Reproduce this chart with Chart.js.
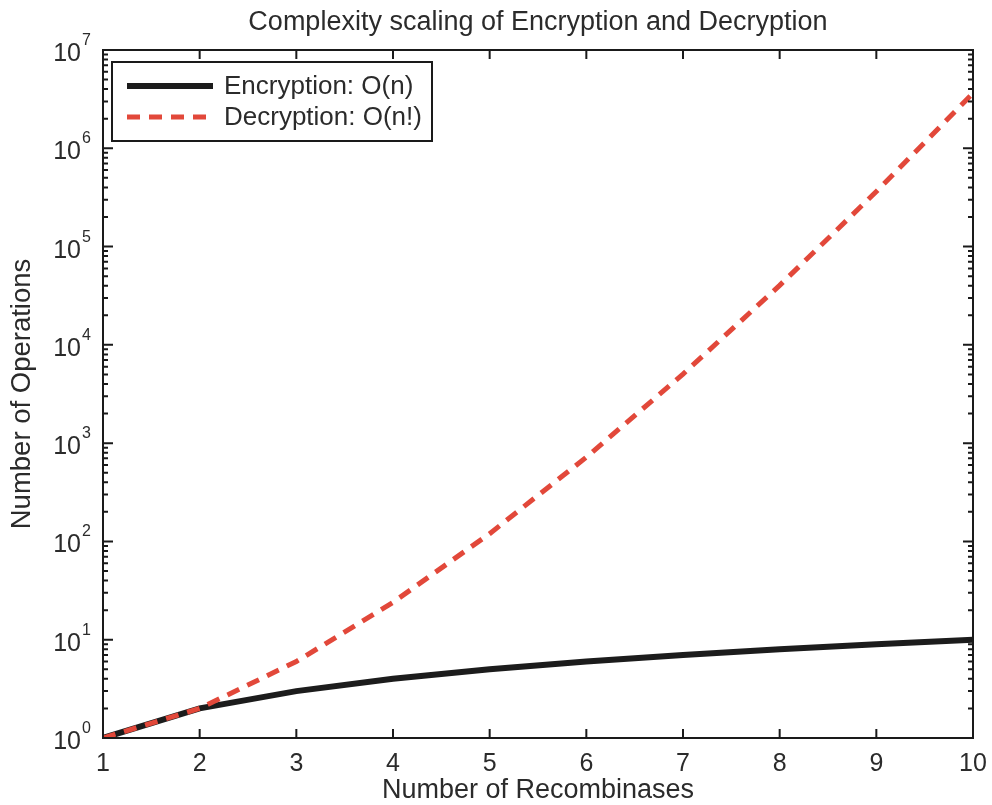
<!DOCTYPE html>
<html>
<head>
<meta charset="utf-8">
<script src="https://cdn.jsdelivr.net/npm/chart.js@4.4.0/dist/chart.umd.min.js"></script>
<style>
  body { margin: 0; background: #fff; }
  #wrap { width: 992px; height: 805px; }
</style>
</head>
<body>
<div id="wrap"><canvas id="myChart"></canvas></div>
<script>
// Data
var recombinases = [1, 2, 3, 4, 5, 6, 7, 8, 9, 10];
var encryptionOps = [1, 2, 3, 4, 5, 6, 7, 8, 9, 10];
var decryptionOps = [1, 2, 6, 24, 120, 720, 5040, 40320, 362880, 3628800];
var xTicks = [1, 2, 3, 4, 5, 6, 7, 8, 9, 10];
var yExponents = [0, 1, 2, 3, 4, 5, 6, 7];
var chartTitle = 'Complexity scaling of Encryption and Decryption';

var textColor = '#2b2b2b';
var blackLine = '#1c1c1c';
var redLine = '#e2483a';
var fontFamily = '"Liberation Sans", Arial, sans-serif';

// MATLAB-style frame, inward ticks, 10^k labels, title over the axes and boxed legend
var matlabFrame = {
    id: 'matlabFrame',
    afterDraw: function (chart) {
        var ctx = chart.ctx;
        var a = chart.chartArea;
        var xs = chart.scales.x, ys = chart.scales.y;
        ctx.save();

        // title centred over the plot box
        ctx.fillStyle = textColor;
        ctx.font = '27px ' + fontFamily;
        ctx.textAlign = 'center';
        ctx.textBaseline = 'middle';
        ctx.fillText(chartTitle, (a.left + a.right) / 2, 23);

        ctx.strokeStyle = '#1a1a1a';
        ctx.lineWidth = 2;
        ctx.strokeRect(a.left, a.top, a.right - a.left, a.bottom - a.top);

        ctx.beginPath();
        xTicks.forEach(function (v) {
            var px = xs.getPixelForValue(v);
            ctx.moveTo(px, a.bottom); ctx.lineTo(px, a.bottom - 9);
            ctx.moveTo(px, a.top); ctx.lineTo(px, a.top + 9);
        });
        yExponents.forEach(function (k) {
            var py = ys.getPixelForValue(Math.pow(10, k));
            ctx.moveTo(a.left, py); ctx.lineTo(a.left + 10, py);
            ctx.moveTo(a.right, py); ctx.lineTo(a.right - 10, py);
            if (k < yExponents[yExponents.length - 1]) {
                for (var m = 2; m <= 9; m++) {
                    var pm = ys.getPixelForValue(m * Math.pow(10, k));
                    ctx.moveTo(a.left, pm); ctx.lineTo(a.left + 5, pm);
                    ctx.moveTo(a.right, pm); ctx.lineTo(a.right - 5, pm);
                }
            }
        });
        ctx.stroke();

        // y tick labels as 10 with superscript exponent
        ctx.fillStyle = textColor;
        yExponents.forEach(function (k) {
            var py = ys.getPixelForValue(Math.pow(10, k));
            ctx.font = '25px ' + fontFamily;
            ctx.textAlign = 'right';
            ctx.textBaseline = 'alphabetic';
            ctx.fillText('10', 81, py + 11);
            ctx.font = '16px ' + fontFamily;
            ctx.textAlign = 'left';
            ctx.fillText(String(k), 82, py - 5);
        });

        // legend box
        var lx = 112, ly = 62, lw = 320, lh = 79;
        ctx.fillStyle = '#fff';
        ctx.fillRect(lx, ly, lw, lh);
        ctx.lineWidth = 2;
        ctx.strokeStyle = '#1a1a1a';
        ctx.strokeRect(lx, ly, lw, lh);
        var rows = [86, 117];
        chart.data.datasets.forEach(function (ds) {
            var row = ds.legendRow;
            ctx.beginPath();
            ctx.strokeStyle = ds.borderColor;
            ctx.lineWidth = ds.borderWidth;
            ctx.setLineDash(ds.borderDash || []);
            ctx.moveTo(127, rows[row]);
            ctx.lineTo(213, rows[row]);
            ctx.stroke();
            ctx.setLineDash([]);
            ctx.fillStyle = textColor;
            ctx.font = '26px ' + fontFamily;
            ctx.textAlign = 'left';
            ctx.textBaseline = 'middle';
            ctx.fillText(ds.label, 224, rows[row] + 1);
        });
        ctx.restore();
    }
};

var ctx = document.getElementById('myChart').getContext('2d');

var myChart = new Chart(ctx, {
    type: 'line',
    data: {
        datasets: [
            {
                label: 'Decryption: O(n!)',
                data: recombinases.map(function (n, i) { return { x: n, y: decryptionOps[i] }; }),
                borderColor: redLine,
                borderWidth: 5,
                borderDash: [13, 9],
                pointRadius: 0,
                fill: false,
                tension: 0,
                order: 0,
                legendRow: 1
            },
            {
                label: 'Encryption: O(n)',
                data: recombinases.map(function (n, i) { return { x: n, y: encryptionOps[i] }; }),
                borderColor: blackLine,
                borderWidth: 6,
                pointRadius: 0,
                fill: false,
                tension: 0,
                order: 1,
                legendRow: 0
            }
        ]
    },
    options: {
        responsive: true,
        maintainAspectRatio: false,
        animation: false,
        layout: { padding: { left: 0, right: 19, top: 50, bottom: 0 } },
        plugins: {
            legend: { display: false },
            tooltip: { enabled: false },
            title: { display: false }
        },
        scales: {
            x: {
                type: 'linear',
                min: 1,
                max: 10,
                grid: { display: false, drawTicks: false },
                border: { display: false },
                ticks: {
                    stepSize: 1,
                    padding: 11,
                    color: textColor,
                    font: { size: 25, family: fontFamily }
                },
                title: {
                    display: true,
                    text: 'Number of Recombinases',
                    color: textColor,
                    font: { size: 27, family: fontFamily },
                    padding: { top: 0, bottom: -2 }
                },
                afterFit: function (scale) {
                    scale.height = 67;
                    scale.paddingLeft = 0;
                    scale.paddingRight = 0;
                }
            },
            y: {
                type: 'logarithmic',
                min: 1,
                max: 10000000,
                grid: { display: false, drawTicks: false },
                border: { display: false },
                ticks: { display: false },
                title: {
                    display: true,
                    text: 'Number of Operations',
                    color: textColor,
                    font: { size: 27.5, family: fontFamily },
                    padding: { top: 6, bottom: 0 }
                },
                afterFit: function (scale) {
                    scale.width = 103;
                    scale.paddingTop = 0;
                    scale.paddingBottom = 0;
                }
            }
        }
    },
    plugins: [matlabFrame]
});
</script>
</body>
</html>
